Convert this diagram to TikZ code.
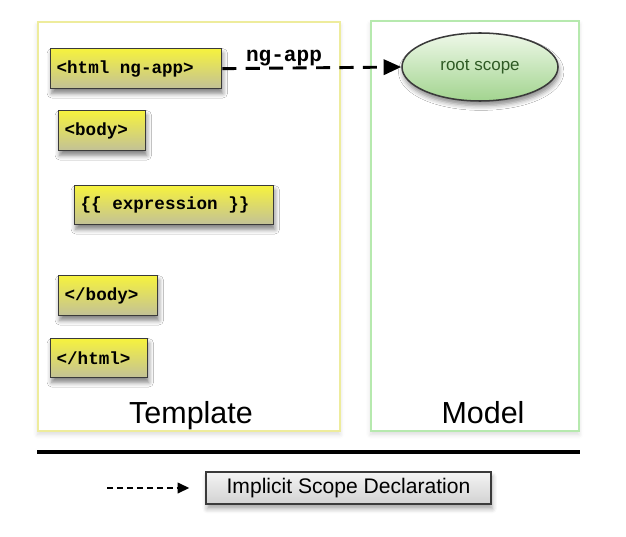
\documentclass[tikz,border=0pt]{standalone}
\usepackage{fontspec}
\setmainfont{Liberation Sans}
\newfontfamily\tagfamily{Liberation Mono}[WordSpace={1,0,0}]
\usetikzlibrary{arrows.meta,shapes.geometric,shadows.blur}
\definecolor{tagtop}{HTML}{F6F23E}
\definecolor{tagbot}{HTML}{C2C197}
\definecolor{tagline}{HTML}{3A3A3A}
\definecolor{scopetop}{HTML}{EEF8E8}
\definecolor{scopebot}{HTML}{A2D48F}
\definecolor{scopetext}{HTML}{2E5A24}
\definecolor{tplline}{HTML}{EEEC9C}
\definecolor{mdlline}{HTML}{B6E9AE}
\definecolor{legtop}{HTML}{F4F4F4}
\definecolor{legbot}{HTML}{D2D2D2}
\newcommand{\tagsp}{\hspace*{0.6em}}

\tikzset{
  tag/.style={draw=tagline, line width=1.1pt, top color=tagtop, bottom color=tagbot,
    font=\tagfamily\bfseries\fontsize{15}{18}\selectfont, align=left,
    inner xsep=0.18cm, inner ysep=0pt, minimum height=1.2cm, anchor=north west,
    blur shadow={shadow xshift=1pt, shadow yshift=-4pt, shadow blur radius=4pt, shadow opacity=50}},
  panel/.style={line width=1.4pt, fill=white, anchor=north west,
    blur shadow={shadow xshift=0pt, shadow yshift=-3pt, shadow blur radius=4pt, shadow opacity=15}},
  paneltitle/.style={font=\fontsize{26}{30}\selectfont, anchor=base},
  scope/.style={ellipse, draw=tagline, line width=1.3pt, top color=scopetop, bottom color=scopebot,
    text=scopetext, font=\fontsize{14.5}{16}\selectfont, minimum width=4.68cm, minimum height=2.04cm,
    inner sep=0pt, blur shadow={shadow xshift=1pt, shadow yshift=-4pt, shadow blur radius=4pt, shadow opacity=45}},
  scopearrow/.style={line width=2.5pt, dash pattern=on 12pt off 8pt, -{Triangle[length=15pt,width=13pt]}},
  legendbox/.style={draw=tagline, line width=1.1pt, top color=legtop, bottom color=legbot,
    font=\fontsize{18}{20}\selectfont, minimum width=8.55cm, minimum height=0.96cm, inner sep=0pt,
    blur shadow={shadow xshift=1pt, shadow yshift=-4pt, shadow blur radius=4pt, shadow opacity=35}},
  legendarrow/.style={line width=1.6pt, dash pattern=on 5pt off 3.5pt, -{Triangle[length=10pt,width=9pt]},
    shorten >=0.48cm},
}

\begin{document}
\begin{tikzpicture}[x=0.03cm, y=-0.03cm]
  \useasboundingbox (0,0) rectangle (626,536);

  % Template and Model panels
  \node[panel, draw=tplline, minimum width=9.06cm, minimum height=12.27cm] (template) at (37,21) {};
  \node[panel, draw=mdlline, minimum width=6.24cm, minimum height=12.3cm] (model) at (370,20) {};
  \node[paneltitle] (tpltitle) at (191,423) {Template};
  \node[paneltitle] (mdltitle) at (483,423) {Model};

  % Template tags
  \node[tag, text width=4.77cm] (html) at (50,48) {<html\tagsp ng-app>};
  \node[tag, text width=2.25cm] (body) at (58,110) {<body>};
  \node[tag, text width=5.61cm, minimum height=1.17cm] (expr) at (74,185) {\{\{\tagsp expression\tagsp\}\}};
  \node[tag, text width=2.61cm] (cbody) at (58,275) {</body>};
  \node[tag, text width=2.55cm, minimum height=1.17cm] (chtml) at (50,338) {</html>};

  % Model
  \node[scope] (root) at (480,67) {root scope};

  % ng-app
  \draw[scopearrow] (html.east) -- (root.west);
  \node[font=\tagfamily\bfseries\fontsize{18}{20}\selectfont, anchor=base] (ngapp) at (284,62) {ng-app};

  % separator and legend
  \draw[line width=2.6pt] (37,452) -- (580,452);
  \node[legendbox] (legend) at (348.5,488) {Implicit Scope Declaration};
  \coordinate (legstart) at (107,488);
  \draw[legendarrow] (legstart) -- (legend.west);
\end{tikzpicture}
\end{document}
